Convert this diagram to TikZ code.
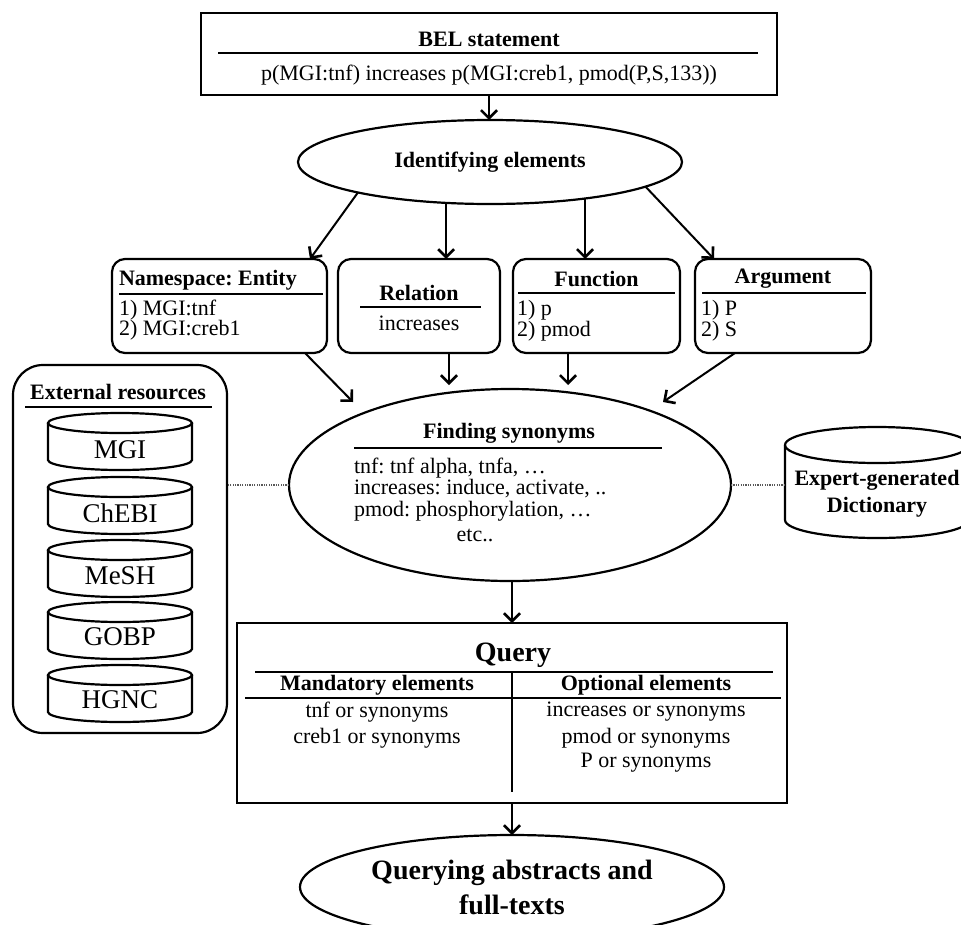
\documentclass[tikz,border=0pt]{standalone}
\usepackage{fontspec}
\setmainfont{Liberation Serif}
\usetikzlibrary{arrows.meta,shapes.geometric,calc}
\frenchspacing
\newcommand\mycyl[5]{% x, top, height, rx, ry
  \draw[boxline] (#1-#4, #2+#5) -- (#1-#4, #2+#3-#5)
     arc[start angle=180, end angle=0, x radius=#4, y radius=#5] -- (#1+#4, #2+#5);
  \draw[boxline] (#1, #2+#5) ellipse[x radius=#4, y radius=#5];}
\begin{document}
\begin{tikzpicture}[x=1pt,y=-1pt,
  every node/.style={font=\fontsize{22}{26}\selectfont\frenchspacing, inner sep=0pt, outer sep=0pt},
  boxline/.style={line width=2.2pt},
  sepline/.style={line width=1.8pt},
  arr/.style={line width=2pt, -{Straight Barb[length=8pt,width=16pt,line width=2.6pt]}},
  dotline/.style={line width=1.4pt, gray!70!black, dash pattern=on 1.2pt off 1.2pt},
  rbox/.style={draw, line width=2.2pt, rounded corners=13pt, minimum height=94},
  big/.style={font=\fontsize{28}{35}\selectfont\bfseries},
  cyltext/.style={font=\fontsize{27}{30}\selectfont},
  bold/.style={font=\fontsize{22}{26}\selectfont\bfseries\frenchspacing}]
\useasboundingbox (0,0) rectangle (961,924);
\clip (0,0) rectangle (961,924);

% BEL statement
\node[draw, boxline, minimum width=576, minimum height=82] (bel) at (489,54) {};
\node[bold] (beltitle) at (489,39) {BEL statement};
\draw[sepline] (218,53) -- (758,53);
\node (belstmt) at (489,75) {p(MGI:tnf) increases p(MGI:creb1, pmod(P,S,133))};

% Identifying elements
\node[ellipse, draw, boxline, minimum width=384, minimum height=84, bold] (ident) at (490,162) {Identifying elements};
\draw[arr] (bel.south) -- (bel.south |- ident.north);

% four boxes
\node[rbox, minimum width=215] (ns) at (219.5,306) {};
\node[rbox, minimum width=162] (rel) at (419,306) {};
\node[rbox, minimum width=167] (fun) at (596.5,306) {};
\node[rbox, minimum width=176] (arg) at (783,306) {};

\node[bold, anchor=west] (nst) at (119,280) {Namespace: Entity};
\draw[sepline] (119,294) -- (323,294);
\node[anchor=west] (ns1) at (119,310) {1) MGI:tnf};
\node[anchor=west] (ns2) at (119,330) {2) MGI:creb1};

\node[bold] (relt) at (419,293) {Relation};
\draw[sepline] (360,307) -- (481,307);
\node (rel1) at (419,323) {increases};

\node[bold] (funt) at (596.5,279) {Function};
\draw[sepline] (518,293) -- (675,293);
\node[anchor=west] (fun1) at (517,310) {1) p};
\node[anchor=west] (fun2) at (517,331) {2) pmod};

\node[bold] (argt) at (783,279) {Argument};
\draw[sepline] (702,293) -- (866,293);
\node[anchor=west] (arg1) at (701,310) {1) P};
\node[anchor=west] (arg2) at (701,331) {2) S};

\draw[arr] (ident.193) -- ($(ns.north east)+(-17,0)$);
\draw[arr] (ident.223) -- (ident.223 |- rel.north);
\draw[arr] (ident.339) -- (ident.339 |- fun.north);
\draw[arr] (ident.351) -- ($(arg.north west)+(19,0)$);

% Finding synonyms
\node[ellipse, draw, boxline, minimum width=442, minimum height=192] (find) at (510,485) {};
\node[bold] (findt) at (509,433) {Finding synonyms};
\draw[sepline] (354,448) -- (662,448);
\node[anchor=west] (f1) at (354,468) {tnf: tnf alpha, tnfa, …};
\node[anchor=west] (f2) at (354,489) {increases: induce, activate, ..};
\node[anchor=west] (f3) at (354,511) {pmod: phosphorylation, …};
\node (f4) at (475,535) {etc..};

\draw[arr] ($(ns.south east)+(-22,0)$) -- ($(find.center)+(-157,-83)$);
\draw[arr] ($(rel.south)+(30,0)$) -- ($(find.center)+(-61,-100)$);
\draw[arr] ($(fun.south)+(-28.5,0)$) -- ($(find.center)+(58,-100)$);
\draw[arr] ($(arg.south west)+(40,0)$) -- ($(find.center)+(153,-83)$);

% External resources
\node[draw, boxline, rounded corners=30pt, minimum width=214, minimum height=368] (ext) at (120,549) {};
\node[bold] (extt) at (118,392) {External resources};
\draw[sepline] (25,407) -- (212,407);
\mycyl{120}{413}{57}{72}{10}
\mycyl{120}{477}{57}{72}{10}
\mycyl{120}{540}{57}{72}{10}
\mycyl{120}{602}{57}{72}{10}
\mycyl{120}{665}{57}{72}{10}
\node[cyltext] (mgi) at (120,450) {MGI};
\node[cyltext] (chebi) at (120,513) {ChEBI};
\node[cyltext] (mesh) at (120,576) {MeSH};
\node[cyltext] (gobp) at (120,637) {GOBP};
\node[cyltext] (hgnc) at (120,700) {HGNC};

% Expert-generated dictionary
\mycyl{877}{427}{111}{92}{18}
\node[bold] (dict1) at (877,480) {Expert-generated};
\node[bold] (dict2) at (877,507) {Dictionary};
\coordinate (dictL) at (785,480);

\draw[dotline] (find.west) -- (find.west -| ext.east);
\draw[dotline] (find.east) -- (find.east -| dictL);

% Query
\node[draw, boxline, minimum width=550, minimum height=180] (query) at (512,713) {};
\node[big] (qt) at (513,655) {Query};
\draw[sepline] (255,672) -- (773,672);
\node[bold] (mand) at (377,685) {Mandatory elements};
\node[bold] (opt) at (646,685) {Optional elements};
\draw[sepline] (245,698) -- (781,698);
\draw[sepline] (512,672) -- (512,792);
\node (m1) at (377,712) {tnf or synonyms};
\node (m2) at (377,738) {creb1 or synonyms};
\node (o1) at (646,712) {increases or synonyms};
\node (o2) at (646,738) {pmod or synonyms};
\node (o3) at (646,763) {P or synonyms};

\draw[arr] (query.north |- find.south) -- (query.north);

% Querying abstracts
\node[ellipse, draw, boxline, minimum width=424, minimum height=104, big, align=center] (final) at (512,887) {Querying abstracts and\\full-texts};
\draw[arr] (query.south) -- (final.north);
\end{tikzpicture}
\end{document}
